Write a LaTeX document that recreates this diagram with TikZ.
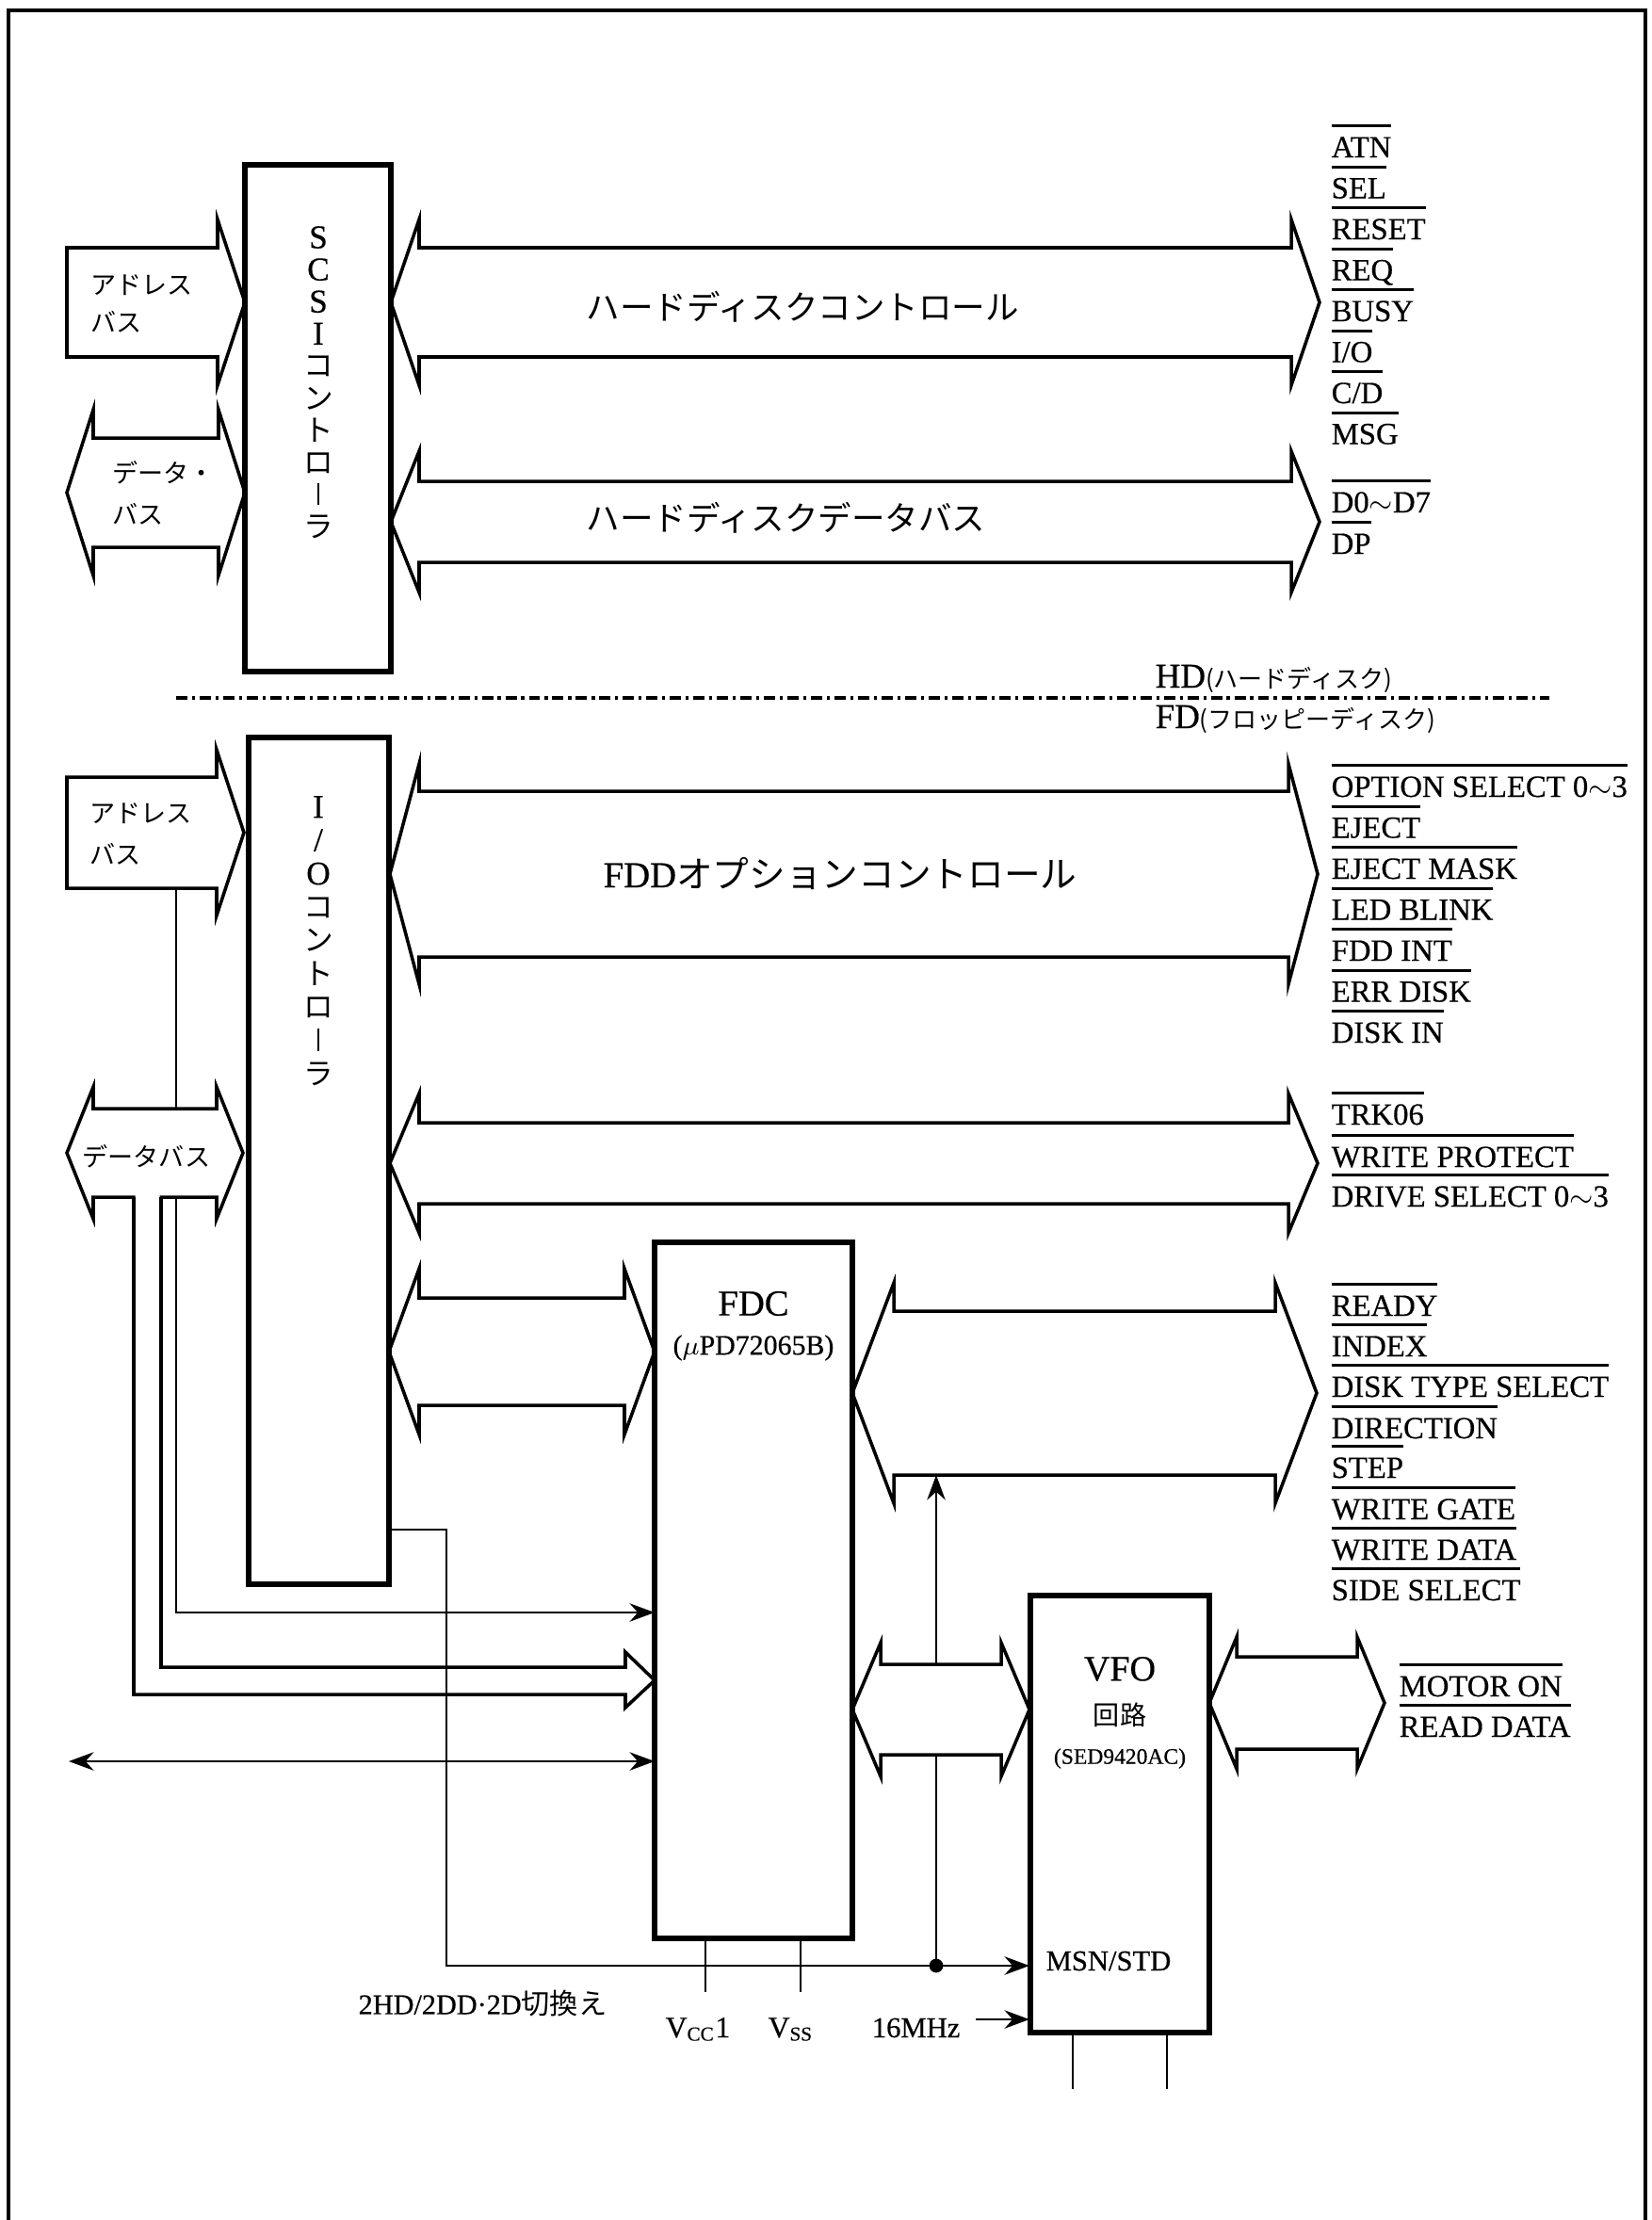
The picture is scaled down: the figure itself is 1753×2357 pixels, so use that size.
\documentclass[tikz,border=0pt]{standalone}
\usepackage{fontspec}
\setmainfont{Liberation Serif}
\newfontfamily\sigf[FakeBold=0.5]{Liberation Serif}
\newfontfamily\jp{Noto Sans CJK JP}
\usetikzlibrary{arrows.meta}
\newcommand\ovl[1]{\leavevmode\vbox{\hrule height 0.85pt\kern 2.9pt\hbox{\vphantom{E}#1}}}
\newcommand\vk[1]{{\jp\fontsize{9pt}{9.7pt}\selectfont #1}}
\newcommand\vbar{{\fontsize{9pt}{9.7pt}\selectfont\rule{0.07em}{0.75em}}}
\newcommand\dblarrow[6]{\draw[fat] (#1,#3) -- ({#1+#6},{#3-#5}) -- ({#1+#6},{#3-#4}) -- ({#2-#6},{#3-#4}) -- ({#2-#6},{#3-#5}) -- (#2,#3) -- ({#2-#6},{#3+#5}) -- ({#2-#6},{#3+#4}) -- ({#1+#6},{#3+#4}) -- ({#1+#6},{#3+#5}) -- cycle;}
\newcommand\sglarrow[6]{\draw[fat] (#1,{#3-#4}) -- ({#2-#6},{#3-#4}) -- ({#2-#6},{#3-#5}) -- (#2,#3) -- ({#2-#6},{#3+#5}) -- ({#2-#6},{#3+#4}) -- (#1,{#3+#4}) -- cycle;}
\begin{document}
\begin{tikzpicture}[x=0.01cm,y=-0.01cm,
  box/.style={draw, line width=1.8pt, inner sep=0pt},
  fat/.style={draw, line width=1pt, line join=miter, fill=white},
  fatline/.style={draw, line width=1pt, line join=miter},
  wire/.style={draw, line width=0.8pt},
  arr/.style={-{Stealth[length=7.5pt,width=5.5pt]}},
  arrtwo/.style={{Stealth[length=7.5pt,width=5.5pt]}-{Stealth[length=7.5pt,width=5.5pt]}},
  sig/.style={anchor=base west, inner sep=0pt, font=\sigf\fontsize{9.3pt}{11pt}\selectfont},
  busl/.style={anchor=west, inner sep=0pt, font=\jp\fontsize{7.7pt}{9pt}\selectfont},
  bigl/.style={anchor=west, inner sep=0pt, font=\jp\fontsize{10.1pt}{12pt}\selectfont},
  vtext/.style={align=center, inner sep=0pt},
  lbl/.style={inner sep=0pt},
  dotn/.style={circle, fill, inner sep=0pt, minimum size=4.2pt}
]
\useasboundingbox (0,0) rectangle (1753,2357);
% frame
\draw[line width=0.9pt] (9,2357) -- (9,11) -- (1747,11) -- (1747,2357);
% separator
\draw[line width=0.9pt, dash pattern=on 3.4pt off 1.4pt on 0.9pt off 1.4pt] (187,741) -- (1645,741);

% fat arrows
\sglarrow{71}{260}{321}{58}{88}{29}
\dblarrow{71}{260}{523}{58}{88}{28}
\dblarrow{415}{1401}{321}{58}{88}{30}
\dblarrow{415}{1401}{554}{43}{75}{30}
\sglarrow{71}{259}{884}{59}{88}{29}
\dblarrow{71}{258}{1224}{47}{70}{28}
\dblarrow{414}{1399}{928}{88}{117}{31}
\dblarrow{414}{1399}{1235}{43}{74}{31}
\dblarrow{413}{695}{1435}{57}{88}{32}
\dblarrow{905}{1398}{1479}{87}{117}{44}
\dblarrow{905}{1093}{1815}{48}{71}{30}
\dblarrow{1284}{1470}{1808}{49}{70}{29}
% L-shaped fat arrow from data bus to FDC
\path[fill=white] (143.5,1264) -- (143.5,1799) -- (664,1799) -- (664,1813) -- (695,1784) -- (664,1754) -- (664,1770) -- (169.5,1770) -- (169.5,1264) -- cycle;
\draw[fatline] (142,1271) -- (142,1799) -- (664,1799) -- (664,1813) -- (695,1784) -- (664,1754) -- (664,1770) -- (171,1770) -- (171,1271);

% boxes
\node[box, minimum width=1.55cm, minimum height=5.38cm] (scsi) at (337.5,444) {};
\node[box, minimum width=1.49cm, minimum height=8.99cm] (io) at (338.5,1232.5) {};
\node[box, minimum width=2.10cm, minimum height=7.39cm] (fdc) at (800,1688.5) {};
\node[box, minimum width=1.90cm, minimum height=4.64cm] (vfo) at (1189,1926) {};

% box texts
\node[vtext, font=\sigf\fontsize{10pt}{9.7pt}\selectfont] (scsitxt) at (338,406)
  {S\\C\\S\\I\\\vk{コ}\\\vk{ン}\\\vk{ト}\\\vk{ロ}\\\vbar\\\vk{ラ}};
\node[vtext, font=\sigf\fontsize{10pt}{10.07pt}\selectfont] (iotxt) at (338,999)
  {I\\/\\O\\\vk{コ}\\\vk{ン}\\\vk{ト}\\\vk{ロ}\\\vbar\\\vk{ラ}};
\node[lbl, font=\sigf\fontsize{11pt}{13pt}\selectfont] (fdct) at (800,1384) {FDC};
\node[lbl, font=\sigf\fontsize{8.5pt}{10pt}\selectfont] (fdcs) at (800,1431) {($\mu$PD72065B)};
\node[lbl, font=\sigf\fontsize{10.8pt}{13pt}\selectfont] (vfot) at (1189,1772) {VFO};
\node[lbl, font=\jp\fontsize{8pt}{10pt}\selectfont] (vfoj) at (1189,1821) {回路};
\node[lbl, font=\sigf\fontsize{6.7pt}{8pt}\selectfont] (vfos) at (1189,1867) {(SED9420AC)};
\node[lbl, anchor=west, font=\sigf\fontsize{8.7pt}{10pt}\selectfont] (msn) at (1110,2082) {MSN/STD};

% bus labels
\node[busl] (ad1a) at (96,303) {アドレス};
\node[busl] (ad1b) at (96,342) {バス};
\node[busl] (da1a) at (119,502) {データ・};
\node[busl] (da1b) at (119,546) {バス};
\node[busl] (ad2a) at (95,864) {アドレス};
\node[busl] (ad2b) at (95,907) {バス};
\node[busl] (da2) at (87,1228) {データバス};

% big labels
\node[bigl] (hdc) at (622,326) {ハードディスクコントロール};
\node[bigl] (hdd) at (622,550) {ハードディスクデータバス};
\node[bigl, font=\sigf\fontsize{11pt}{13pt}\selectfont] (fdo) at (640,927) {FDD{\jp オプションコントロール}};

% HD / FD
\node[anchor=base west, inner sep=0pt, font=\sigf\fontsize{10.5pt}{12pt}\selectfont] (hdl) at (1226,730) {HD{\jp\fontsize{7.4pt}{9pt}\selectfont (ハードディスク)}};
\node[anchor=base west, inner sep=0pt, font=\sigf\fontsize{10.5pt}{12pt}\selectfont] (fdl) at (1226,773) {FD{\jp\fontsize{7.4pt}{9pt}\selectfont (フロッピーディスク)}};

% signal lists
\foreach \t/\y [count=\i] in {ATN/167,SEL/210.5,RESET/254,REQ/297.5,BUSY/341,{I/O}/384.5,{C/D}/428,MSG/471.5,{D0$\sim$D7}/544,DP/588}
  \node[sig] (hs\i) at (1413,\y) {\ovl{\t}};
\foreach \t/\y [count=\i] in {{OPTION SELECT 0$\sim$3}/846,EJECT/889.5,{EJECT MASK}/933,{LED BLINK}/976.5,{FDD INT}/1020,{ERR DISK}/1063.5,{DISK IN}/1107,TRK06/1194,{WRITE PROTECT}/1239,{DRIVE SELECT 0$\sim$3}/1281}
  \node[sig] (fs\i) at (1413,\y) {\ovl{\t}};
\foreach \t/\y [count=\i] in {READY/1397,INDEX/1440,{DISK TYPE SELECT}/1483,DIRECTION/1527,STEP/1569,{WRITE GATE}/1613,{WRITE DATA}/1656,{SIDE SELECT}/1699}
  \node[sig] (ds\i) at (1413,\y) {\ovl{\t}};
\node[sig] (mo) at (1485,1801) {\ovl{MOTOR ON}};
\node[sig] (rd) at (1485,1844) {\ovl{READ DATA}};

% thin connectors
\coordinate (adrB) at (187,943);
\coordinate (datT) at (187,1177);
\draw[wire] (adrB) -- (datT);
\coordinate (datB) at (187,1271);
\coordinate (fdcA) at (695,1712);
\draw[wire,arr] (datB) |- (fdcA);
\coordinate (bidL) at (73,1870);
\coordinate (bidR) at (695,1870);
\draw[wire,arrtwo] (bidL) -- (bidR);
\coordinate (ioO) at (413,1624);
\coordinate (ioK) at (474,1624);
\coordinate (vfoM) at (1093,2087);
\draw[wire,arr] (ioO) -- (ioK) |- (vfoM);
\node[dotn] (dot) at (994,2087) {};
\coordinate (aB) at (994,1863);
\coordinate (aT) at (994,1767);
\coordinate (bB) at (994,1566);
\draw[wire] (dot.center) -- (aB);
\draw[wire,arr] (aT) -- (bB);
\coordinate (clkS) at (1036,2144);
\coordinate (clkE) at (1093,2144);
\draw[wire,arr] (clkS) -- (clkE);
\node[lbl, anchor=east, font=\sigf\fontsize{8.7pt}{10pt}\selectfont] (clk) at (1020,2153) {16MHz};
% pins
\coordinate (p1) at (749,2058); \coordinate (p1e) at (749,2115);
\coordinate (p2) at (850,2058); \coordinate (p2e) at (850,2115);
\draw[wire] (p1) -- (p1e);
\draw[wire] (p2) -- (p2e);
\coordinate (p3) at (1139,2158); \coordinate (p3e) at (1139,2218);
\coordinate (p4) at (1239,2158); \coordinate (p4e) at (1239,2218);
\draw[wire] (p3) -- (p3e);
\draw[wire] (p4) -- (p4e);
\node[lbl, anchor=base west, font=\sigf\fontsize{9pt}{10pt}\selectfont] (vcc) at (706,2163) {V\textsubscript{CC}1};
\node[lbl, anchor=base west, font=\sigf\fontsize{9pt}{10pt}\selectfont] (vss) at (815,2163) {V\textsubscript{SS}};
\node[lbl, anchor=west, font=\sigf\fontsize{8.6pt}{10pt}\selectfont] (sw) at (380,2127) {2HD/2DD·2D{\jp 切換え}};
\end{tikzpicture}
\end{document}
